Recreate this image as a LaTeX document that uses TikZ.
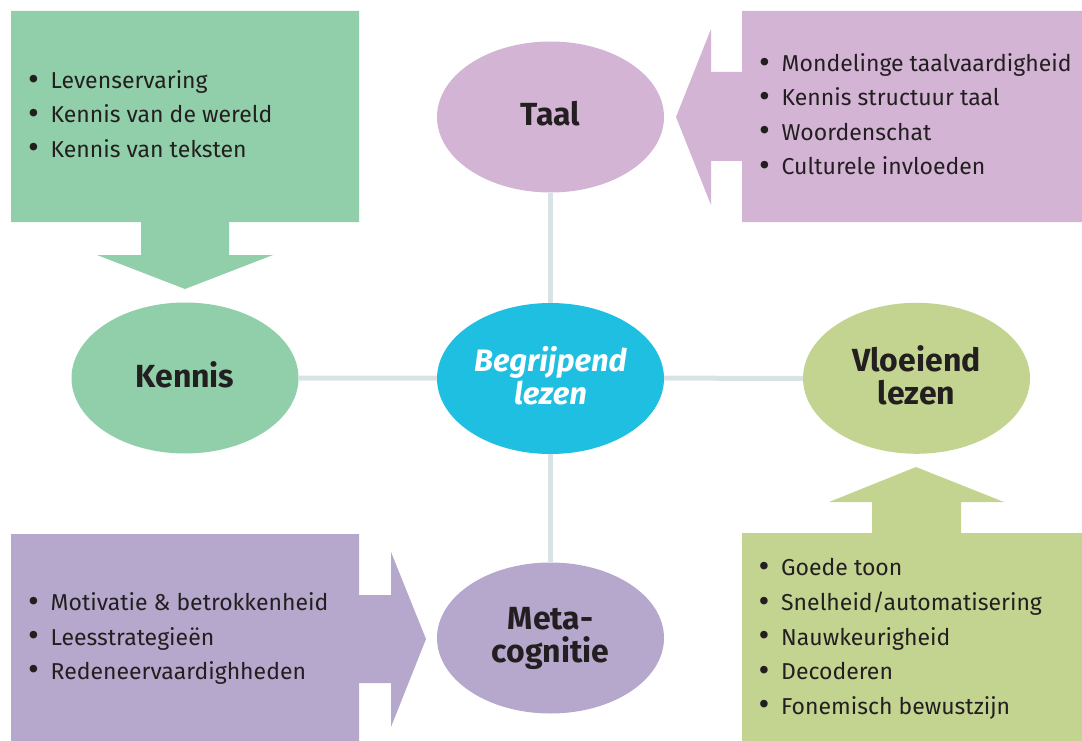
\documentclass[tikz,border=0pt]{standalone}
\usepackage{fontspec}
\setmainfont{Fira Sans}
\usetikzlibrary{shapes.geometric,backgrounds}

\definecolor{kgreen}{HTML}{90CFA9}
\definecolor{tpurple}{HTML}{D3B4D5}
\definecolor{bcyan}{HTML}{1EBFE0}
\definecolor{vgreen}{HTML}{C3D491}
\definecolor{mpurple}{HTML}{B6A8CC}
\definecolor{linkgray}{HTML}{D8E3E6}
\definecolor{ink}{HTML}{231F20}

\tikzset{
  topic/.style={ellipse, minimum width=227pt, minimum height=151pt, inner sep=0pt,
    align=center, text depth=7pt, text=ink,
    font=\fontsize{32}{33}\selectfont\bfseries},
  link/.style={draw=linkgray, line width=5pt},
  item/.style={anchor=base west, inner sep=0pt, text=ink,
    font=\fontsize{23}{28}\selectfont},
}
\newcommand{\bul}[1]{\makebox[22.5pt][l]{\raisebox{-1.5pt}{\scalebox{1.45}{\textbullet}}}#1}

\begin{document}
\begin{tikzpicture}[x=1pt, y=-1pt]
\useasboundingbox (0,0) rectangle (1082,741);

% box-arrows feeding the four topics
\fill[kgreen] (11,11) -- (359,11) -- (359,222) -- (229,222) -- (229,255) -- (273,255)
  -- (185,289) -- (97,255) -- (141,255) -- (141,222) -- (11,222) -- cycle;
\fill[tpurple] (742,11) -- (1082,11) -- (1082,222) -- (742,222) -- (742,161) -- (711,161)
  -- (711,205) -- (676,117) -- (711,29) -- (711,72) -- (742,72) -- cycle;
\fill[mpurple] (11,534) -- (359,534) -- (359,595) -- (391,595) -- (391,552) -- (426,639)
  -- (391,727) -- (391,683) -- (359,683) -- (359,741) -- (11,741) -- cycle;
\fill[vgreen] (742,533) -- (872,533) -- (872,502) -- (829,502) -- (916,467) -- (1004,502)
  -- (961,502) -- (961,533) -- (1082,533) -- (1082,741) -- (742,741) -- cycle;

% topics
\node[topic, fill=bcyan, text=white, font=\fontsize{31}{33}\selectfont\bfseries\itshape]
  (center) at (550.5,378.5) {Begrijpend\\lezen};
\node[topic, fill=tpurple] (taal) at (550.5,117) {Taal};
\node[topic, fill=kgreen] (kennis) at (185,378) {Kennis};
\node[topic, fill=vgreen] (vloeiend) at (916.5,378.3) {Vloeiend\\lezen};
\node[topic, fill=mpurple] (meta) at (550.5,638) {Meta-\\cognitie};

\begin{scope}[on background layer]
  \draw[link] (taal.south) -- (meta.north);
  \draw[link] (kennis.east) -- (vloeiend.west);
\end{scope}

% bullet lists
\node[item] (k1) at (28,89) {\bul{Levenservaring}};
\node[item] (k2) at (28,123) {\bul{Kennis van de wereld}};
\node[item] (k3) at (28,157.3) {\bul{Kennis van teksten}};

\node[item] (t1) at (759,71.7) {\bul{Mondelinge taalvaardigheid}};
\node[item] (t2) at (759,106) {\bul{Kennis structuur taal}};
\node[item] (t3) at (759,140.3) {\bul{Woordenschat}};
\node[item] (t4) at (759,175) {\bul{Culturele invloeden}};

\node[item] (m1) at (28,610.7) {\bul{Motivatie \& betrokkenheid}};
\node[item] (m2) at (28,645.3) {\bul{Leesstrategieën}};
\node[item] (m3) at (28,679.3) {\bul{Redeneervaardighheden}};

\node[item] (v1) at (758.5,575.7) {\bul{Goede toon}};
\node[item] (v2) at (758.5,610.7) {\bul{Snelheid/automatisering}};
\node[item] (v3) at (758.5,645.2) {\bul{Nauwkeurigheid}};
\node[item] (v4) at (758.5,679.8) {\bul{Decoderen}};
\node[item] (v5) at (758.5,714.2) {\bul{Fonemisch bewustzijn}};
\end{tikzpicture}
\end{document}
